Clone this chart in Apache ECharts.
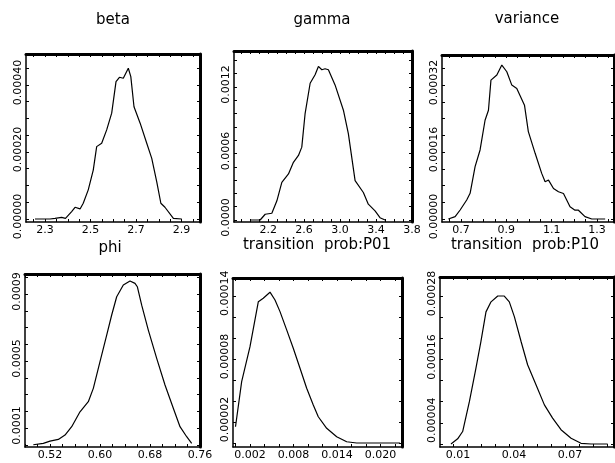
<!DOCTYPE html>
<html><head><meta charset="utf-8">
<script src="https://cdn.jsdelivr.net/npm/echarts@6/dist/echarts.min.js"></script>
<style>html,body{margin:0;padding:0;background:#fff}#c{width:615px;height:463px}</style>
</head><body><div id="c"></div>
<script>
// ---- titles ----
const titles = ['beta', 'gamma', 'variance', 'phi', 'transition  prob:P01', 'transition  prob:P10'];

// ---- beta ----
const betaX = [2.256,2.322,2.344,2.373,2.39,2.417,2.432,2.454,2.468,2.49,2.512,2.527,2.549,2.571,2.593,2.612,2.627,2.644,2.666,2.677,2.691,2.718,2.747,2.769,2.791,2.809,2.827,2.864,2.901];
const betaY = [0,0,0.000002,0.000005,0.000002,0.000022,0.000035,0.00003,0.000047,0.000087,0.000146,0.000216,0.000226,0.000266,0.000316,0.00041,0.000423,0.00042,0.00045,0.000425,0.000335,0.000286,0.000226,0.000181,0.000111,0.000047,0.000035,0.000002,0];
const betaXTicks = [2.3, 2.5, 2.7, 2.9];
const betaYTicks = [0, 0.0002, 0.0004];

// ---- gamma ----
const gammaX = [2.0,2.111,2.167,2.241,2.297,2.352,2.426,2.481,2.537,2.574,2.611,2.667,2.722,2.759,2.797,2.833,2.87,2.944,3.037,3.092,3.167,3.259,3.314,3.389,3.444,3.5];
const gammaY = [0,0,0.000052,0.000061,0.000173,0.00034,0.000415,0.00052,0.000582,0.000657,0.00096,0.001233,0.00131,0.001385,0.001355,0.001364,0.001355,0.001218,0.00099,0.000779,0.000355,0.000248,0.000143,0.000082,0.000021,0];
const gammaXTicks = [2.2, 2.6, 3.0, 3.4, 3.8];
const gammaYTicks = [0, 0.0006, 0.0012];

// ---- variance ----
const varX = [0.644,0.674,0.696,0.725,0.74,0.762,0.784,0.806,0.821,0.832,0.858,0.88,0.902,0.924,0.946,0.98,0.997,1.027,1.056,1.071,1.086,1.108,1.13,1.152,1.181,1.203,1.218,1.247,1.277,1.336];
const varY = [0,0.0000055,0.0000215,0.0000454,0.0000614,0.000125,0.000165,0.000236,0.00026,0.000332,0.000344,0.000368,0.000352,0.00032,0.000312,0.000272,0.000209,0.000157,0.000109,0.000089,0.000093,0.000073,0.000065,0.000061,0.000029,0.000021,0.000021,0.0000055,0,0];
const varXTicks = [0.7, 0.9, 1.1, 1.3];
const varYTicks = [0, 0.00016, 0.00032];

// ---- phi ----
const phiX = [0.4933,0.5093,0.52,0.5333,0.544,0.5547,0.568,0.5813,0.5893,0.60,0.6107,0.6187,0.6267,0.6373,0.648,0.656,0.6597,0.6667,0.6773,0.6907,0.704,0.7173,0.728,0.7387,0.7467];
const phiY = [0,0.0000086,0.000022,0.000032,0.000058,0.000108,0.000197,0.000257,0.000337,0.000496,0.000655,0.000775,0.000884,0.000954,0.000978,0.000964,0.000944,0.000834,0.000685,0.000516,0.000357,0.000218,0.000108,0.000048,0.0000086];
const phiXTicks = [0.52, 0.60, 0.68, 0.76];
const phiYTicks = [0.0001, 0.0005, 0.0009];

// ---- transition prob P01 ----
const p01X = [0,0.00085,0.002,0.00315,0.00383,0.00476,0.00545,0.00614,0.00706,0.00797,0.0089,0.00982,0.01073,0.01142,0.01258,0.01396,0.01534,0.01672,0.0181,0.0227];
const p01Y = [0.0000155,0.0000584,0.0000917,0.0001345,0.0001378,0.0001435,0.0001361,0.000125,0.0001076,0.0000902,0.0000711,0.0000521,0.0000362,0.000025,0.000014,0.000006,0.0000012,0,0,0];
const p01XTicks = [0.002, 0.008, 0.014, 0.020];
const p01YTicks = [0.00002, 0.00008, 0.00014];

// ---- transition prob P10 ----
const p10X = [0.00625,0.00982,0.0125,0.0161,0.0196,0.0223,0.025,0.0277,0.0313,0.0348,0.0375,0.0402,0.0438,0.0473,0.0518,0.0563,0.0607,0.0652,0.0706,0.0759,0.0813,0.0902];
const p10Y = [0,0.0000098,0.0000236,0.00008,0.000143,0.000194,0.00025,0.000269,0.00028,0.00028,0.000269,0.000241,0.000194,0.00015,0.000112,0.000074,0.000049,0.000027,0.000011,0.0000013,0,0];
const p10XTicks = [0.01, 0.04, 0.07];
const p10YTicks = [0.00004, 0.00016, 0.00028];

// ---- layout ----
const panels = [
  {x: betaX, y: betaY, xl: betaXTicks, yl: betaYTicks, xd: 1, yd: 5, g: [26, 54, 174, 168], xr: [2.2165, 2.981], yr: [-0.000009, 0.0004925], xs: 0.05, ys: 0.00005, t: [113, 20]},
  {x: gammaX, y: gammaY, xl: gammaXTicks, yl: gammaYTicks, xd: 1, yd: 4, g: [234, 51, 178, 171], xr: [1.82, 3.8], yr: [-0.000018, 0.001524], xs: 0.1, ys: 0.00012, t: [322, 20]},
  {x: varX, y: varY, xl: varXTicks, yl: varYTicks, xd: 1, yd: 5, g: [442, 55, 172, 167], xr: [0.616, 1.375], yr: [-0.0000072, 0.000392], xs: 0.05, ys: 0.00004, t: [527, 19]},
  {x: phiX, y: phiY, xl: phiXTicks, yl: phiYTicks, xd: 2, yd: 4, g: [25, 274, 175, 173], xr: [0.48, 0.76], yr: [-0.0000134, 0.00102], xs: 0.02, ys: 0.0001, t: [110, 248]},
  {x: p01X, y: p01Y, xl: p01XTicks, yl: p01YTicks, xd: 3, yd: 5, g: [233, 278, 169, 169], xr: [-0.000345, 0.02297], yr: [-0.0000038, 0.000157], xs: 0.002, ys: 0.00002, t: [317, 245]},
  {x: p10X, y: p10Y, xl: p10XTicks, yl: p10YTicks, xd: 2, yd: 5, g: [440, 277, 174, 170], xr: [0.00036, 0.0936], yr: [-0.0000057, 0.000316], xs: 0.0075, ys: 0.00004, t: [525, 245]}
];

function tickVals(r, s) {
  const out = [];
  for (let k = Math.ceil(r[0] / s - 1e-9); k * s <= r[1] + 1e-12; k++) out.push(+(k * s).toFixed(10));
  return out;
}

const FONT = 'DejaVu Sans';
const grid = [], xAxis = [], yAxis = [], series = [], graphic = [];
panels.forEach((p, i) => {
  grid.push({left: p.g[0], top: p.g[1], width: p.g[2], height: p.g[3], show: false});
  const xt = tickVals(p.xr, p.xs), yt = tickVals(p.yr, p.ys);
  const baseX = {type: 'value', gridIndex: i, min: p.xr[0], max: p.xr[1], splitLine: {show: false}};
  const baseY = {type: 'value', gridIndex: i, min: p.yr[0], max: p.yr[1], splitLine: {show: false}};
  xAxis.push(Object.assign({}, baseX, {
    position: 'bottom',
    axisLine: {onZero: false, lineStyle: {color: '#000', width: 1.5}},
    axisTick: {inside: true, length: 3, customValues: xt, lineStyle: {color: '#000'}},
    axisLabel: {customValues: p.xl, margin: 3, color: '#000', fontFamily: FONT, fontSize: 11,
      formatter: v => (+v).toFixed(p.xd)}
  }));
  xAxis.push(Object.assign({}, baseX, {
    position: 'top',
    axisLine: {onZero: false, lineStyle: {color: '#000', width: 3}},
    axisTick: {inside: true, length: 3, customValues: xt, lineStyle: {color: '#000'}},
    axisLabel: {show: false}
  }));
  yAxis.push(Object.assign({}, baseY, {
    position: 'left',
    axisLine: {onZero: false, lineStyle: {color: '#000', width: 1.5}},
    axisTick: {inside: true, length: 3, customValues: yt, lineStyle: {color: '#000'}},
    axisLabel: {customValues: p.yl, rotate: 90, margin: 2, color: '#000', fontFamily: FONT, fontSize: 11,
      padding: [0, 0, 0, 5], formatter: v => (+v).toFixed(p.yd)}
  }));
  yAxis.push(Object.assign({}, baseY, {
    position: 'right',
    axisLine: {onZero: false, lineStyle: {color: '#000', width: 3}},
    axisTick: {inside: true, length: 3, customValues: yt, lineStyle: {color: '#000'}},
    axisLabel: {show: false}
  }));
  series.push({
    type: 'line', xAxisIndex: 2 * i, yAxisIndex: 2 * i,
    data: p.x.map((v, k) => [v, p.y[k]]),
    showSymbol: false, symbol: 'none', smooth: false,
    lineStyle: {color: '#000', width: 1.2}, silent: true
  });
  graphic.push({type: 'text', x: p.t[0], y: p.t[1],
    style: {text: titles[i], fill: '#000', font: '15px "' + FONT + '"', textAlign: 'center', textVerticalAlign: 'middle'}});
});

const chart = echarts.init(document.getElementById('c'));
chart.setOption({animation: false, backgroundColor: '#fff', grid, xAxis, yAxis, series, graphic});
</script>
</body></html>
